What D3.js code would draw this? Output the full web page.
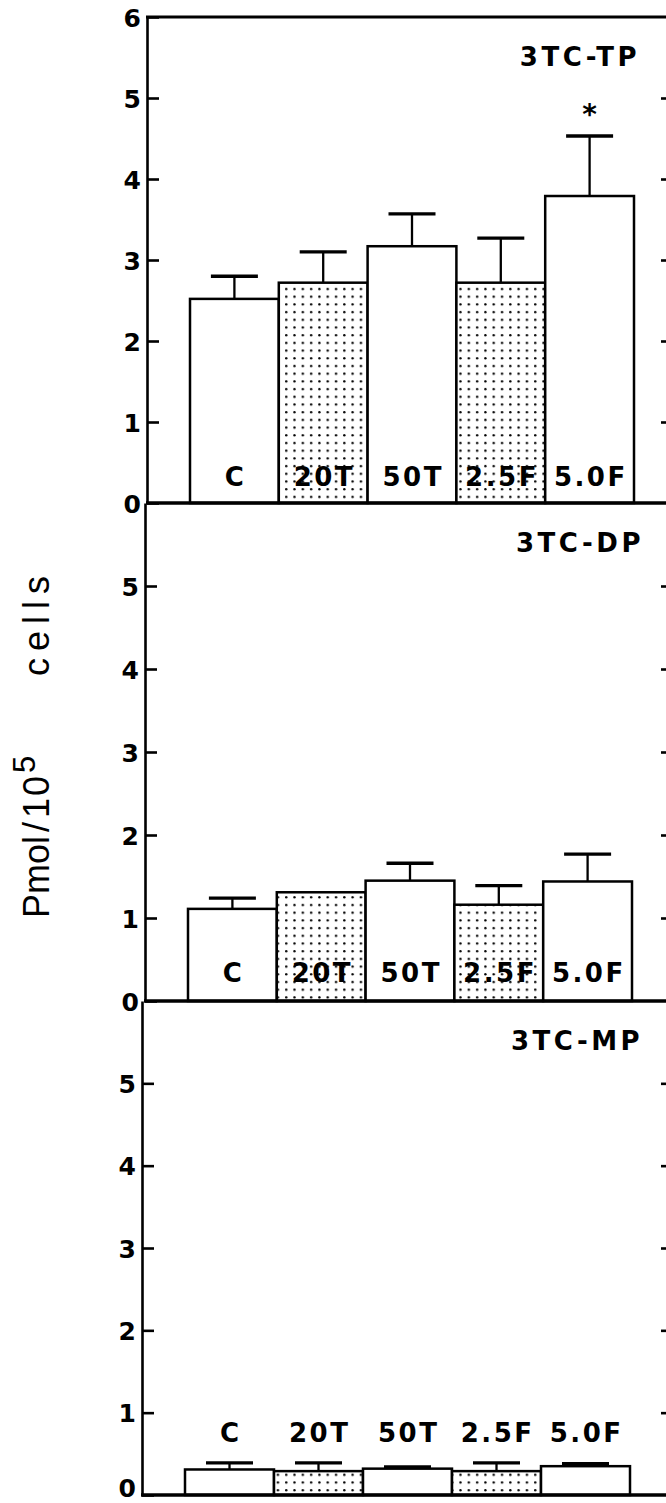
<!DOCTYPE html>
<html>
<head>
<meta charset="utf-8">
<script src="https://cdn.jsdelivr.net/npm/d3@7/dist/d3.min.js"></script>
<style>
  html, body { margin: 0; padding: 0; background: #fff; }
  svg { display: block; }
</style>
</head>
<body>
<svg id="chart" width="666" height="1503"></svg>
<script>
// Treatment groups (x categories)
const categories = ["C", "20T", "50T", "2.5F", "5.0F"];

// Panel titles
const panelTitles = ["3TC-TP", "3TC-DP", "3TC-MP"];

// Means and standard errors, pmol / 10^5 cells
const tpMeans = [2.52, 2.72, 3.17, 2.72, 3.79];
const tpSE    = [0.28, 0.38, 0.40, 0.55, 0.74];
const dpMeans = [1.11, 1.31, 1.45, 1.16, 1.44];
const dpSE    = [0.13, 0.00, 0.21, 0.23, 0.33];
const mpMeans = [0.31, 0.29, 0.32, 0.29, 0.35];
const mpSE    = [0.08, 0.10, 0.02, 0.10, 0.03];

// Significance marks (TP panel only)
const tpMarks = ["", "", "", "", "*"];

// Y tick values
const ticksTop   = [0, 1, 2, 3, 4, 5, 6];
const ticksLower = [0, 1, 2, 3, 4, 5];
const ticksRight = [1, 2, 3, 4, 5];

const yLabelParts = ["Pmol", "/", "1", "0"];
const yLabelSup = "5";
const yLabelUnit = "cells";

// ---- layout ----
const W = 666, H = 1503;
const layout = [
  { top: 17,   zero: 503,  axisX: 147, x0: 190, x1: 634, labelY: -17, titleX: 580 },
  { top: 503,  zero: 1001, axisX: 145, x0: 188, x1: 632, labelY: -19, titleX: 580 },
  { top: 1001, zero: 1495, axisX: 142, x0: 185, x1: 630, labelY: -53, titleX: 577 }
];
const panelData = [
  { means: tpMeans, se: tpSE, marks: tpMarks, ticks: ticksTop },
  { means: dpMeans, se: dpSE, marks: null,    ticks: ticksLower },
  { means: mpMeans, se: mpSE, marks: null,    ticks: ticksLower }
];
const dotted = new Set(["20T", "2.5F"]);

const svg = d3.select("#chart");
const boldFont = "'DejaVu Sans', Verdana, sans-serif";

// stipple fill for the shaded groups
const defs = svg.append("defs");
const pat = defs.append("pattern")
  .attr("id", "dots")
  .attr("patternUnits", "userSpaceOnUse")
  .attr("width", 8.3).attr("height", 7.7);
pat.append("rect").attr("width", 8.3).attr("height", 7.7).attr("fill", "#fff");
pat.append("circle").attr("cx", 4).attr("cy", 4).attr("r", 1.2).attr("fill", "#000");

panelData.forEach((pd, i) => {
  const L = layout[i];
  const g = svg.append("g");

  const x = d3.scaleBand().domain(categories).range([L.x0, L.x1]).padding(0);
  const y = d3.scaleLinear().domain([0, 6]).range([L.zero, L.top]);

  const rows = categories.map((c, j) => ({
    cat: c, mean: pd.means[j], se: pd.se[j], mark: pd.marks ? pd.marks[j] : ""
  }));

  // error bars (drawn under the bars)
  const eb = g.append("g").attr("stroke", "#000").attr("fill", "none");
  rows.filter(d => d.se > 0).forEach(d => {
    const cx = x(d.cat) + x.bandwidth() / 2;
    eb.append("line")
      .attr("x1", cx).attr("x2", cx)
      .attr("y1", y(d.mean)).attr("y2", y(d.mean + d.se))
      .attr("stroke-width", 2.3);
    eb.append("line")
      .attr("x1", cx - 23.5).attr("x2", cx + 23.5)
      .attr("y1", y(d.mean + d.se)).attr("y2", y(d.mean + d.se))
      .attr("stroke-width", 3.4);
  });

  // bars
  g.append("g").selectAll("rect").data(rows).join("rect")
    .attr("x", d => x(d.cat))
    .attr("y", d => y(d.mean))
    .attr("width", x.bandwidth())
    .attr("height", d => y(0) - y(d.mean))
    .attr("fill", d => dotted.has(d.cat) ? "url(#dots)" : "#fff")
    .attr("stroke", "#000")
    .attr("stroke-width", 2.5);

  // significance asterisk
  rows.filter(d => d.mark).forEach(d => {
    g.append("text")
      .attr("x", x(d.cat) + x.bandwidth() / 2)
      .attr("y", y(d.mean + d.se) - 12)
      .attr("text-anchor", "middle")
      .attr("font-family", boldFont)
      .attr("font-weight", "bold")
      .attr("font-size", 28)
      .text(d.mark);
  });

  // group labels
  g.append("g").selectAll("text").data(rows).join("text")
    .attr("x", d => x(d.cat) + x.bandwidth() / 2 + 1.2)
    .attr("y", L.zero + L.labelY)
    .attr("text-anchor", "middle")
    .attr("font-family", boldFont)
    .attr("font-weight", "bold")
    .attr("font-size", 26)
    .attr("letter-spacing", 2.5)
    .text(d => d.cat);

  // panel title
  g.append("text")
    .attr("x", L.titleX)
    .attr("y", L.top + 49)
    .attr("text-anchor", "middle")
    .attr("font-family", boldFont)
    .attr("font-weight", "bold")
    .attr("font-size", 26)
    .attr("letter-spacing", 3.5)
    .text(panelTitles[i]);

  // left axis, ticks pointing inward
  const ax = g.append("g")
    .attr("transform", `translate(${L.axisX},0)`)
    .call(d3.axisLeft(y).tickValues(pd.ticks).tickSizeInner(-12).tickSizeOuter(0).tickPadding(6).tickFormat(d3.format("d")));
  ax.select(".domain").attr("stroke", "#000").attr("stroke-width", 2.6);
  ax.selectAll(".tick line").attr("stroke", "#000").attr("stroke-width", 2.6);
  ax.selectAll(".tick text")
    .attr("fill", "#000")
    .attr("font-family", boldFont)
    .attr("font-weight", "bold")
    .attr("font-size", 25)
    .attr("dy", d => (y(d) + 10 > H ? "0.05em" : "0.36em"));

  // right-hand ticks at the frame edge
  const rax = g.append("g")
    .attr("transform", `translate(${W},0)`)
    .call(d3.axisRight(y).tickValues(ticksRight).tickSize(-5).tickFormat(""));
  rax.select(".domain").remove();
  rax.selectAll(".tick line").attr("stroke", "#000").attr("stroke-width", 2.6);

  // baseline of the panel
  g.append("line")
    .attr("x1", L.axisX - 1).attr("x2", W)
    .attr("y1", y(0)).attr("y2", y(0))
    .attr("stroke", "#000").attr("stroke-width", 3.4);

  // top frame line for the first panel
  if (i === 0) {
    g.append("line")
      .attr("x1", L.axisX - 1).attr("x2", W)
      .attr("y1", y(6)).attr("y2", y(6))
      .attr("stroke", "#000").attr("stroke-width", 2.8);
  }
});

// y axis title, rotated
const yt = svg.append("g").attr("transform", "translate(49,0) rotate(-90)")
  .attr("font-family", "'Liberation Sans', Arial, sans-serif")
  .attr("font-size", 36)
  .attr("fill", "#000");
const main = yt.append("text").attr("x", -918).attr("y", 0);
const gaps = [0, 4, 4, 2];
yLabelParts.forEach((p, k) => main.append("tspan").attr("dx", gaps[k]).text(p));
yt.append("text")
  .attr("x", -773).attr("y", -14)
  .attr("font-size", 31)
  .text(yLabelSup);
yt.append("text")
  .attr("x", -676).attr("y", 0)
  .attr("textLength", 100).attr("lengthAdjust", "spacing")
  .text(yLabelUnit);
</script>
</body>
</html>
